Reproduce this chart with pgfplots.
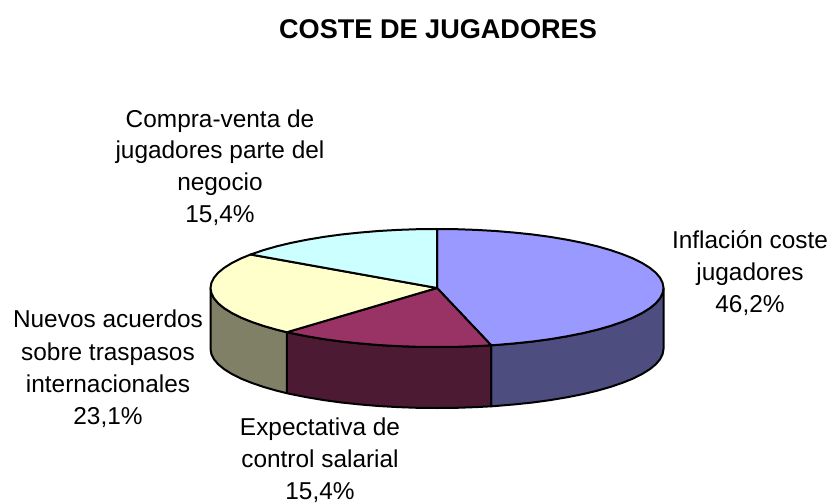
\documentclass[border=0pt]{standalone}
\usepackage{fontspec}
\setmainfont{Liberation Sans}
\usepackage{pgfplots}
\pgfplotsset{compat=1.18}
\definecolor{cblue}{HTML}{9999FF}
\definecolor{cmaroon}{HTML}{993366}
\definecolor{cyellow}{HTML}{FFFFCC}
\definecolor{ccyan}{HTML}{CCFFFF}
\definecolor{sblue}{HTML}{4D4D80}
\definecolor{smaroon}{HTML}{4D1A33}
\definecolor{syellow}{HTML}{808066}
\tikzset{lbl/.style={anchor=base, inner sep=0pt, font=\fontsize{24.4}{29}\selectfont}}
\begin{document}
\begin{tikzpicture}
\begin{axis}[
  scale only axis, width=832pt, height=503pt,
  xmin=0, xmax=832, ymin=0, ymax=503, y dir=reverse,
  hide axis, clip=false,
  every axis plot/.append style={draw=black, line width=2pt, line join=round, mark=none},
]
\path (axis cs:0,0) rectangle (axis cs:832,503);
% blue side
\addplot[fill=sblue] coordinates {
(663.5,288)(662.6,293.1)(660.1,298.2)(655.8,303.3)(649.8,308.2)(642.3,312.9)(633.2,317.5)(622.5,321.8)(610.5,325.9)(597.2,329.7)(582.6,333.2)(566.9,336.3)(550.3,339.1)(532.7,341.5)(514.5,343.4)(495.6,345.0)(491.2,345.3)
(491.2,406.3)(495.6,406.0)(514.5,404.4)(532.7,402.5)(550.3,400.1)(566.9,397.3)(582.6,394.2)(597.2,390.7)(610.5,386.9)(622.5,382.8)(633.2,378.5)(642.3,373.9)(649.8,369.2)(655.8,364.3)(660.1,359.2)(662.6,354.1)(663.5,349)
} --cycle;
% maroon side
\addplot[fill=smaroon] coordinates {
(491.2,345.3)(476.3,346.1)(456.8,346.8)(437,347)(417.2,346.8)(397.7,346.1)(378.4,345.0)(359.5,343.4)(341.3,341.5)(323.7,339.1)(307.1,336.3)(291.4,333.2)(286.9,332.2)
(286.9,393.2)(291.4,394.2)(307.1,397.3)(323.7,400.1)(341.3,402.5)(359.5,404.4)(378.4,406.0)(397.7,407.1)(417.2,407.8)(437,408)(456.8,407.8)(476.3,407.1)(491.2,406.3)
} --cycle;
% yellow side
\addplot[fill=syellow] coordinates {
(286.9,332.2)(276.8,329.7)(263.5,325.9)(251.5,321.8)(240.8,317.5)(231.7,312.9)(224.2,308.2)(218.2,303.3)(213.9,298.2)(211.4,293.1)(210.5,288)
(210.5,349)(211.4,354.1)(213.9,359.2)(218.2,364.3)(224.2,369.2)(231.7,373.9)(240.8,378.5)(251.5,382.8)(263.5,386.9)(276.8,390.7)(286.9,393.2)
} --cycle;
% blue top
\addplot[fill=cblue] coordinates {
(437,288)(437,229)(456.8,229.2)(476.3,229.9)(495.6,231.0)(514.5,232.6)(532.7,234.5)(550.3,236.9)(566.9,239.7)(582.6,242.8)(597.2,246.3)(610.5,250.1)(622.5,254.2)(633.2,258.5)(642.3,263.1)(649.8,267.8)(655.8,272.7)(660.1,277.8)(662.6,282.9)(663.5,288)(662.6,293.1)(660.1,298.2)(655.8,303.3)(649.8,308.2)(642.3,312.9)(633.2,317.5)(622.5,321.8)(610.5,325.9)(597.2,329.7)(582.6,333.2)(566.9,336.3)(550.3,339.1)(532.7,341.5)(514.5,343.4)(495.6,345.0)(491.2,345.3)
} --cycle;
% maroon top
\addplot[fill=cmaroon] coordinates {
(437,288)(491.2,345.3)(476.3,346.1)(456.8,346.8)(437,347)(417.2,346.8)(397.7,346.1)(378.4,345.0)(359.5,343.4)(341.3,341.5)(323.7,339.1)(307.1,336.3)(291.4,333.2)(286.9,332.2)
} --cycle;
% yellow top
\addplot[fill=cyellow] coordinates {
(437,288)(286.9,332.2)(276.8,329.7)(263.5,325.9)(251.5,321.8)(240.8,317.5)(231.7,312.9)(224.2,308.2)(218.2,303.3)(213.9,298.2)(211.4,293.1)(210.5,288)(211.4,282.9)(213.9,277.8)(218.2,272.7)(224.2,267.8)(231.7,263.1)(240.8,258.5)(250.6,254.5)
} --cycle;
% cyan top
\addplot[fill=ccyan] coordinates {
(437,288)(250.6,254.5)(251.5,254.2)(263.5,250.1)(276.8,246.3)(291.4,242.8)(307.1,239.7)(323.7,236.9)(341.3,234.5)(359.5,232.6)(378.4,231.0)(397.7,229.9)(417.2,229.2)(437,229)
} --cycle;
\node[anchor=base, inner sep=0pt, font=\fontsize{27.1}{32}\selectfont\bfseries] at (axis cs:438,38) {COSTE DE JUGADORES};
\node[lbl] at (axis cs:220,127) {Compra-venta de};
\node[lbl] at (axis cs:220,158.5) {jugadores parte del};
\node[lbl] at (axis cs:220,190) {negocio};
\node[lbl] at (axis cs:220,222) {15,4\%};
\node[lbl] at (axis cs:750,248) {Inflación coste};
\node[lbl] at (axis cs:750,280) {jugadores};
\node[lbl] at (axis cs:750,312) {46,2\%};
\node[lbl] at (axis cs:108,327) {Nuevos acuerdos};
\node[lbl] at (axis cs:108,360) {sobre traspasos};
\node[lbl] at (axis cs:108,392) {internacionales};
\node[lbl] at (axis cs:108,424) {23,1\%};
\node[lbl] at (axis cs:320,435) {Expectativa de};
\node[lbl] at (axis cs:320,467) {control salarial};
\node[lbl] at (axis cs:320,499) {15,4\%};
\end{axis}
\end{tikzpicture}
\end{document}
